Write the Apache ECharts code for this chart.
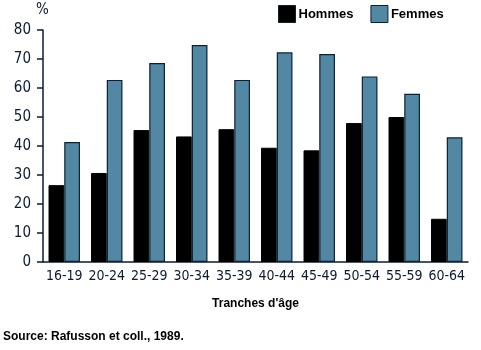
<!DOCTYPE html>
<html>
<head>
<meta charset="utf-8">
<script src="https://cdn.jsdelivr.net/npm/echarts@6/dist/echarts.min.js"></script>
<style>
html,body{margin:0;padding:0;background:#fff;}
#chart{width:481px;height:350px;}
</style>
</head>
<body>
<div id="chart"></div>
<script>
// Age groups and share (%) per sex
const categories = ['16-19','20-24','25-29','30-34','35-39','40-44','45-49','50-54','55-59','60-64'];
const hommes = [26.5, 30.7, 45.5, 43.3, 45.8, 39.4, 38.5, 47.9, 50.0, 14.9];
const femmes = [41.4, 62.8, 68.6, 74.8, 62.8, 72.3, 71.7, 64.0, 58.0, 43.0];
const yTicks = [0, 10, 20, 30, 40, 50, 60, 70, 80];

const navy = '#0b1c33';
const tickFont = '"DejaVu Sans Condensed", "DejaVu Sans", sans-serif';

const chart = echarts.init(document.getElementById('chart'), null, {renderer: 'canvas'});
chart.setOption({
  animation: false,
  backgroundColor: '#fff',
  grid: {left: 43, right: 13, top: 30, bottom: 88, containLabel: false},
  legend: {
    data: ['Hommes', 'Femmes'],
    left: 278, top: 5,
    padding: 0,
    icon: 'rect',
    itemWidth: 17, itemHeight: 17, itemGap: 17,
    itemStyle: {borderColor: '#0b2233', borderWidth: 1},
    textStyle: {fontFamily: 'Liberation Sans', fontWeight: 'bold', fontSize: 13, color: '#000', padding: [0,0,0,-2]}
  },
  xAxis: {
    type: 'category',
    data: categories,
    name: "Tranches d'âge",
    nameLocation: 'middle',
    nameGap: 36,
    nameTextStyle: {fontFamily: 'Liberation Sans', fontWeight: 'bold', fontSize: 12, color: '#000'},
    axisLine: {lineStyle: {color: navy, width: 1.5}},
    axisTick: {show: false},
    axisLabel: {interval: 0, fontFamily: tickFont, fontSize: 14, color: navy, margin: 7}
  },
  yAxis: {
    type: 'value',
    min: yTicks[0], max: yTicks[yTicks.length - 1], interval: 10,
    name: '%',
    nameLocation: 'end',
    nameGap: 12,
    nameTextStyle: {fontFamily: tickFont, fontSize: 15, color: navy, align: 'left', padding: [0, 0, 0, -7]},
    axisLine: {show: true, lineStyle: {color: navy, width: 1.5}},
    axisTick: {show: true, length: 6, lineStyle: {color: navy, width: 1.5}},
    axisLabel: {fontFamily: tickFont, fontSize: 15, color: navy, margin: 12},
    splitLine: {show: false}
  },
  series: [
    {
      name: 'Hommes', type: 'bar', data: hommes,
      barGap: '0%', barCategoryGap: '26%',
      itemStyle: {color: '#000', borderColor: '#000', borderWidth: 1}
    },
    {
      name: 'Femmes', type: 'bar', data: femmes,
      itemStyle: {color: '#5288a3', borderColor: '#0b2233', borderWidth: 1.2}
    }
  ],
  graphic: [
    {
      type: 'text', left: 3, top: 331,
      style: {text: 'Source: Rafusson et coll., 1989.', font: 'bold 12px "Liberation Sans"', fill: '#000'}
    }
  ]
});
</script>
</body>
</html>
